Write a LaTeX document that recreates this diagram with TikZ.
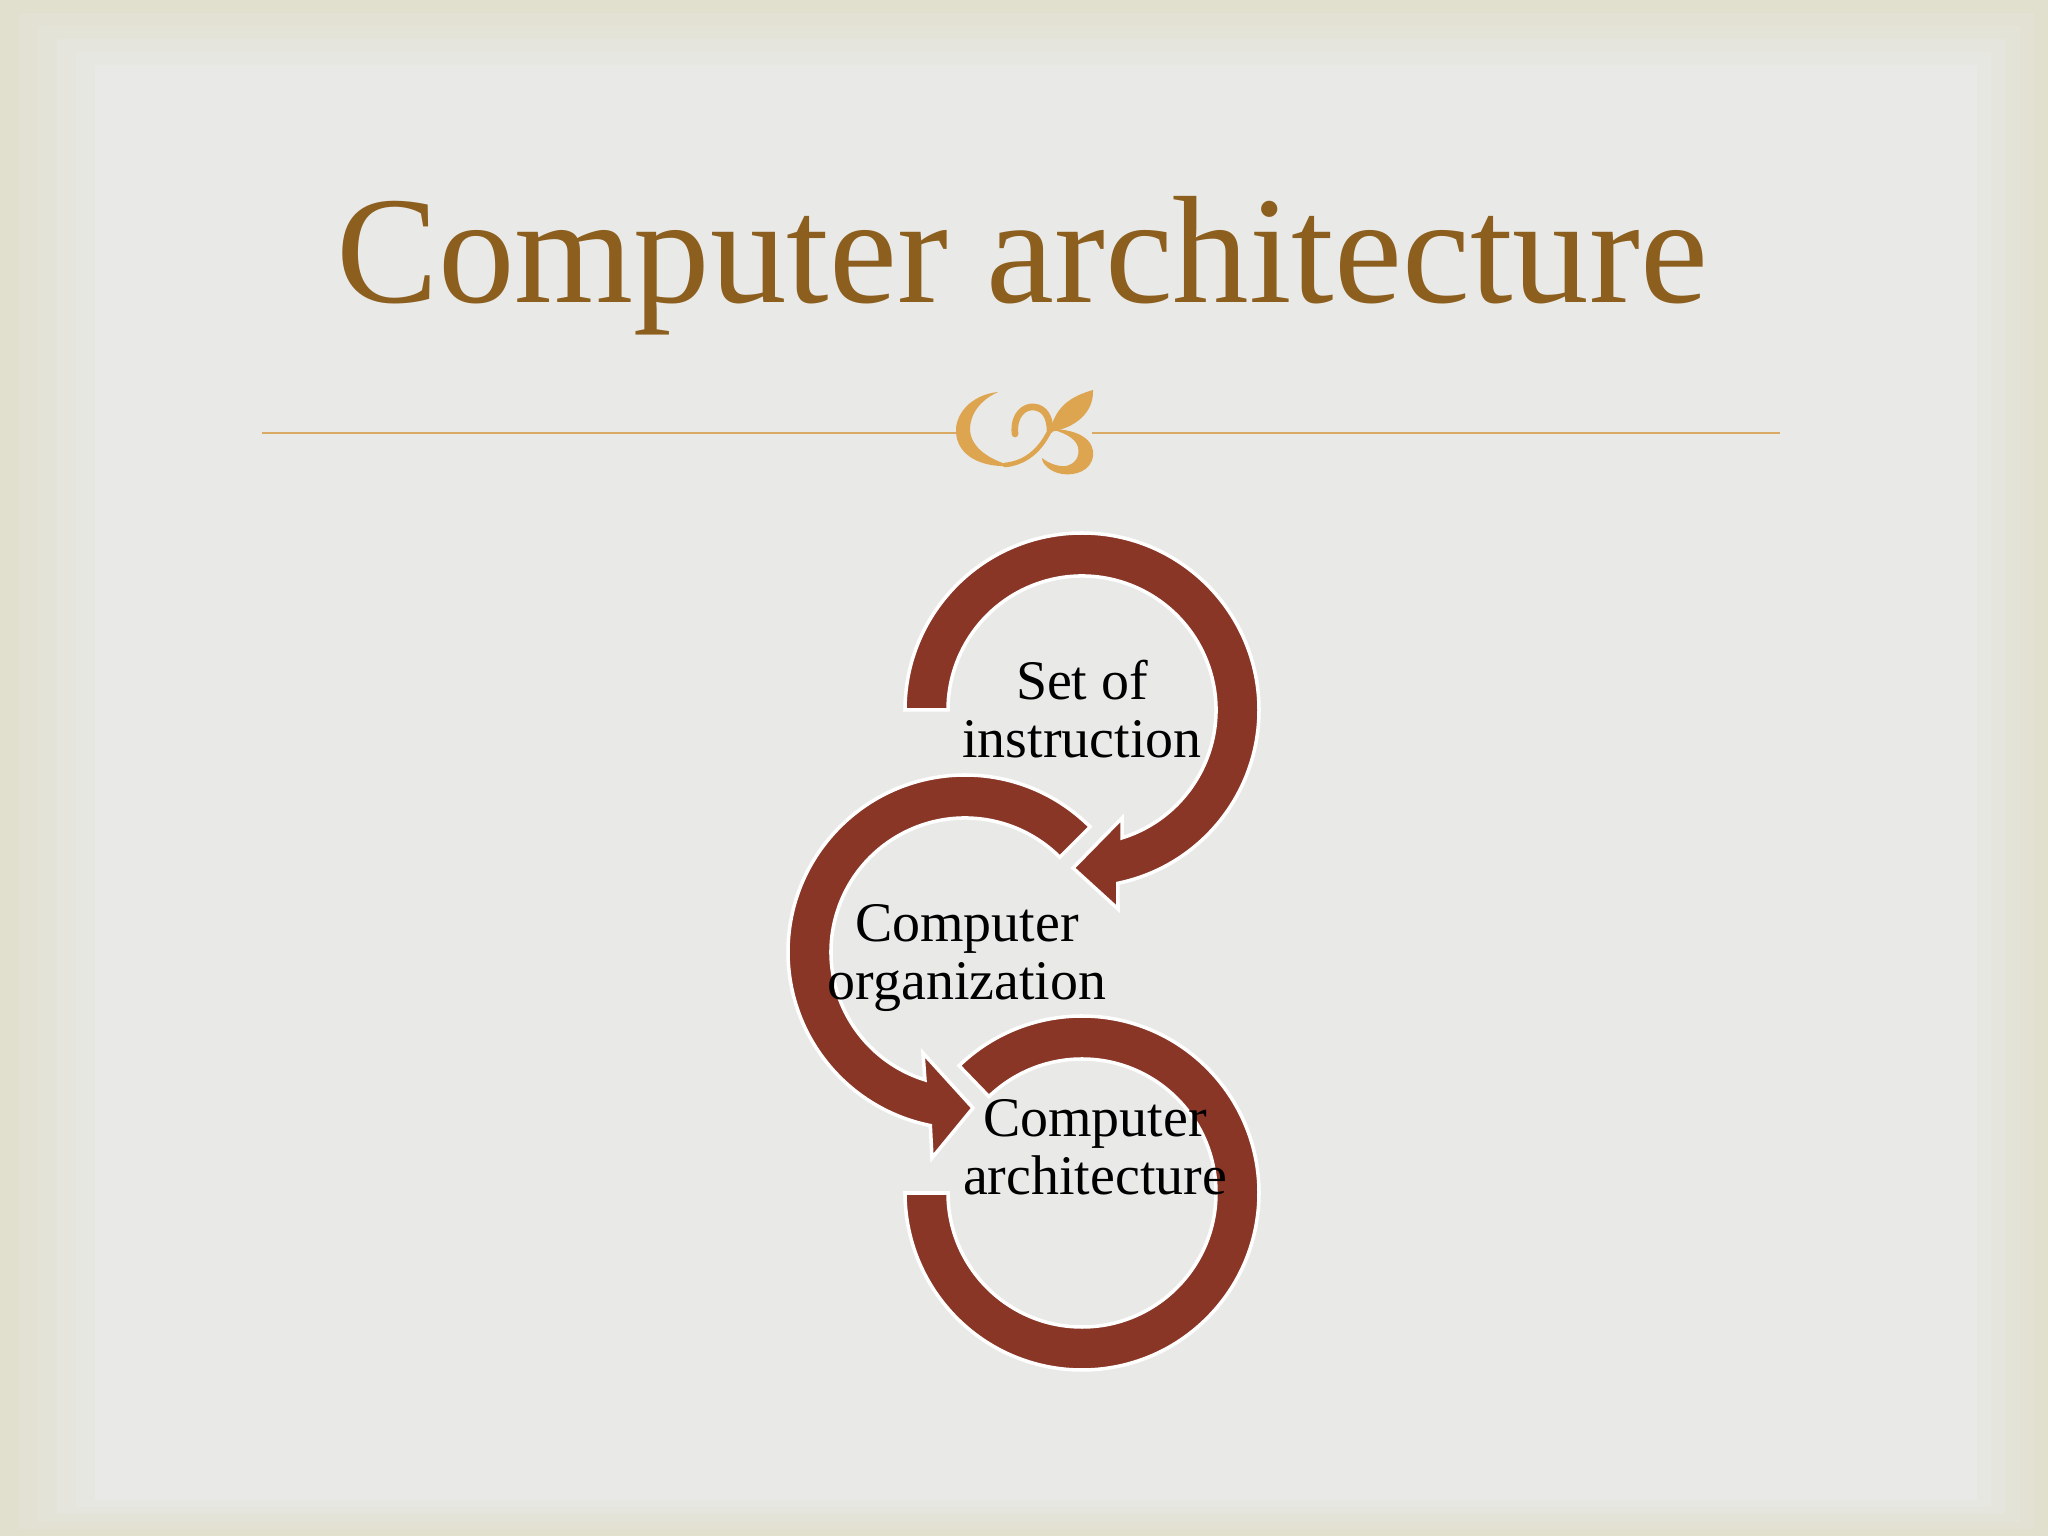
\documentclass[tikz,border=0pt]{standalone}
\usepackage{fontspec}
\setmainfont{Liberation Serif}
\usetikzlibrary{calc}
\definecolor{bgout}{HTML}{E1DFCE}
\definecolor{bgin}{HTML}{E9E9E7}
\definecolor{titlebrown}{RGB}{140,95,30}
\definecolor{gold}{RGB}{222,165,80}
\definecolor{goldline}{RGB}{218,170,100}
\definecolor{arrowred}{RGB}{137,54,38}
\begin{document}
\begin{tikzpicture}[x=0.01cm,y=0.01cm,
  arrowshape/.style={fill=arrowred, draw=white, line width=1pt, line join=miter},
  lbl/.style={inner sep=0pt, anchor=base, font=\fontsize{15.9}{19}\selectfont, text=black},
  orn/.style={fill=gold, draw=none},
  ornline/.style={draw=gold, line cap=round},
  rule/.style={draw=goldline, line width=0.75pt}]
\useasboundingbox (0,0) rectangle (2048,1536);
% background with soft frame
\fill[bgout] (0,0) rectangle (2048,1536);
\fill[bgin!20!bgout] (19,7) rectangle (2034,1523);
\fill[bgin!40!bgout] (38,14) rectangle (2020,1510);
\fill[bgin!60!bgout] (57,22) rectangle (2005,1497);
\fill[bgin!80!bgout] (76,29) rectangle (1991,1484);
\fill[bgin] (95,36) rectangle (1977,1471);
% title
\node[anchor=base, inner sep=0pt, text=titlebrown, font=\fontsize{43.5}{50}\selectfont] (title) at (1022,1233) {Computer architecture};
% rule
\coordinate (l1) at (262,1103);
\coordinate (l2) at (957,1103);
\coordinate (r1) at (1092,1103);
\coordinate (r2) at (1780,1103);
\path[rule] (l1) -- (l2);
\path[rule] (r1) -- (r2);
% ornament
\fill[orn] (998,1144) .. controls (970,1141) and (955,1121) .. (956,1104)
  .. controls (957,1081) and (980,1068) .. (1012,1070)
  .. controls (990,1076) and (971,1088) .. (970,1106)
  .. controls (970,1126) and (985,1138) .. (998,1144) -- cycle;
\path[ornline, line width=1.3pt] (1005,1071) .. controls (1025,1073) and (1040,1085) .. (1050,1106);
\fill[orn] (1050,1104) .. controls (1055,1130) and (1072,1140) .. (1093,1146)
  .. controls (1094,1124) and (1076,1108) .. (1050,1104) -- cycle;
\path[ornline, line width=1.9pt] (1015,1102) .. controls (1013,1122) and (1025,1130) .. (1034,1129)
  .. controls (1045,1128) and (1050,1118) .. (1050,1106);
\fill[orn] (1050,1107) .. controls (1080,1107) and (1095,1095) .. (1093,1080)
  .. controls (1091,1065) and (1075,1060) .. (1062,1062)
  .. controls (1050,1064) and (1042,1072) .. (1042,1078)
  .. controls (1048,1073) and (1058,1069) .. (1066,1070)
  .. controls (1075,1072) and (1080,1079) .. (1078,1089)
  .. controls (1075,1099) and (1062,1104) .. (1050,1107) -- cycle;
% circle centres
\coordinate (c1) at (1082,826);
\coordinate (c2) at (965,584);
\coordinate (c3) at (1082,343);
% arrow 3 (ring)
\path[arrowshape] ($(c3)+(134:177)$) arc[start angle=134, end angle=-180, radius=177]
  -- ($(c3)+(180:134)$) arc[start angle=-180, end angle=134, radius=134] -- cycle;
% arrow 2
\path[arrowshape] ($(c2)+(45:177)$) arc[start angle=45, end angle=258.7, radius=177]
  -- (932,378) -- (973,428) -- (923,483)
  -- ($(c2)+(252.6:134)$) arc[start angle=252.6, end angle=45, radius=134] -- cycle;
% arrow 1
\path[arrowshape] ($(c1)+(180:177)$) arc[start angle=180, end angle=-78.3, radius=177]
  -- (1118,627) -- (1073,668) -- (1122,718)
  -- ($(c1)+(-72.6:134)$) arc[start angle=-72.6, end angle=180, radius=134] -- cycle;
% labels
\node[lbl] (t1a) at (1082,836) {Set of};
\node[lbl] (t1b) at (1082,778) {instruction};
\node[lbl] (t2a) at (967,594) {Computer};
\node[lbl] (t2b) at (967,536) {organization};
\node[lbl] (t3a) at (1095,399) {Computer};
\node[lbl] (t3b) at (1095,341) {architecture};
\end{tikzpicture}
\end{document}
